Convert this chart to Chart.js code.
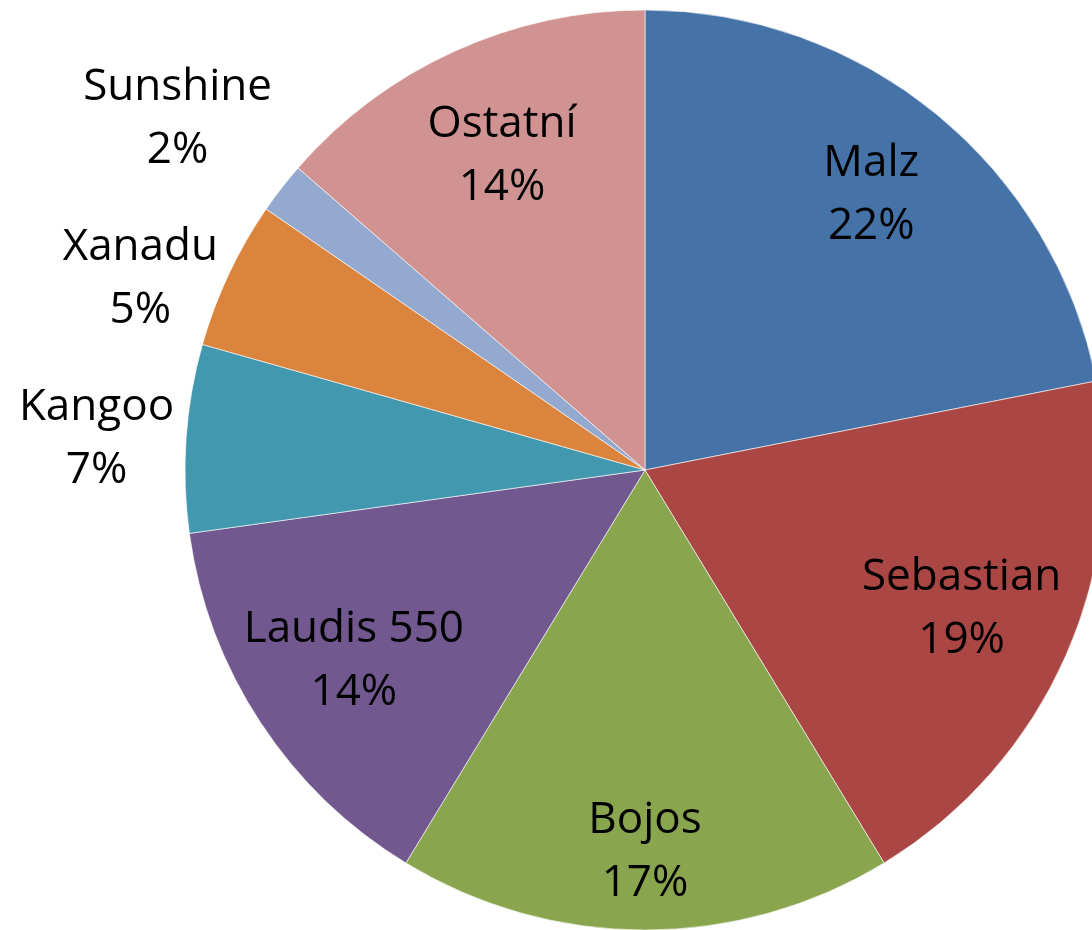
<!DOCTYPE html>
<html>
<head>
<meta charset="utf-8">
<script src="https://cdn.jsdelivr.net/npm/chart.js@4"></script>
<style>
  html, body { margin: 0; padding: 0; background: #fff; overflow: hidden; }
  #wrap { width: 1092px; height: 930px; position: relative; }
</style>
</head>
<body>
<div id="wrap"><canvas id="pie"></canvas></div>
<script>
// values (percent of total)
const brands = ['Malz', 'Sebastian', 'Bojos', 'Laudis 550', 'Kangoo', 'Xanadu', 'Sunshine', 'Ostatní'];
const shares = [21.9, 19.4, 17.4, 14.1, 6.6, 5.2, 1.8, 13.6];
const colors = ['#4572A7', '#AA4643', '#89A54E', '#71588F', '#4198AF', '#DB843D', '#93A9CF', '#D19392'];

const FONT = '44px "Open Sans"';
const LINE = 63;

// labels: name + rounded percent, inside the big slices, outside the small ones
const sliceLabels = {
    id: 'sliceLabels',
    afterDatasetsDraw(chart) {
        const ctx = chart.ctx;
        const meta = chart.getDatasetMeta(0);
        const total = shares.reduce((a, b) => a + b, 0);
        const outside = [];
        ctx.save();
        ctx.font = FONT;
        ctx.fillStyle = '#000';
        ctx.textAlign = 'center';
        ctx.textBaseline = 'middle';
        meta.data.forEach((arc, i) => {
            const p = arc.getProps(['x', 'y', 'startAngle', 'endAngle', 'outerRadius'], true);
            const mid = (p.startAngle + p.endAngle) / 2;
            const cos = Math.cos(mid), sin = Math.sin(mid);
            const lines = [brands[i], Math.round(shares[i] / total * 100) + '%'];
            if (shares[i] >= 8) {
                const k = 0.75 + 0.08 * Math.max(0, sin) ** 4 + 0.05 * Math.max(0, cos) * Math.max(0, -sin);
                const d = p.outerRadius * k;
                const cx = p.x + cos * d, cy = p.y + sin * d;
                ctx.fillText(lines[0], cx, cy - LINE / 2);
                ctx.fillText(lines[1], cx, cy + LINE / 2);
            } else {
                // box sits just outside the rim, beside the anchor point
                const w = Math.max(...lines.map(t => ctx.measureText(t).width));
                const d = p.outerRadius + 12;
                const fy = Math.max(-1, Math.min(1, sin * 1.6));
                outside.push({
                    lines,
                    x: p.x + cos * d + Math.sign(cos) * w / 2,
                    y: p.y + sin * d + fy * LINE
                });
            }
        });
        outside.sort((a, b) => a.y - b.y);
        for (let k = 1; k < outside.length; k++) {
            if (outside[k].y < outside[k - 1].y + 160) outside[k].y = outside[k - 1].y + 160;
        }
        outside.forEach(o => {
            ctx.fillText(o.lines[0], o.x, o.y - LINE / 2);
            ctx.fillText(o.lines[1], o.x, o.y + LINE / 2);
        });
        ctx.restore();
    }
};

new Chart(document.getElementById('pie'), {
    type: 'pie',
    data: {
        labels: brands,
        datasets: [{
            data: shares,
            backgroundColor: colors,
            borderColor: 'rgba(255,255,255,0.6)',
            borderWidth: 1
        }]
    },
    options: {
        responsive: true,
        maintainAspectRatio: false,
        animation: false,
        radius: 460,
        layout: { padding: { left: 198, right: 0, top: 10, bottom: 0 } },
        plugins: {
            legend: { display: false },
            tooltip: { enabled: false }
        }
    },
    plugins: [sliceLabels]
});
</script>
</body>
</html>
